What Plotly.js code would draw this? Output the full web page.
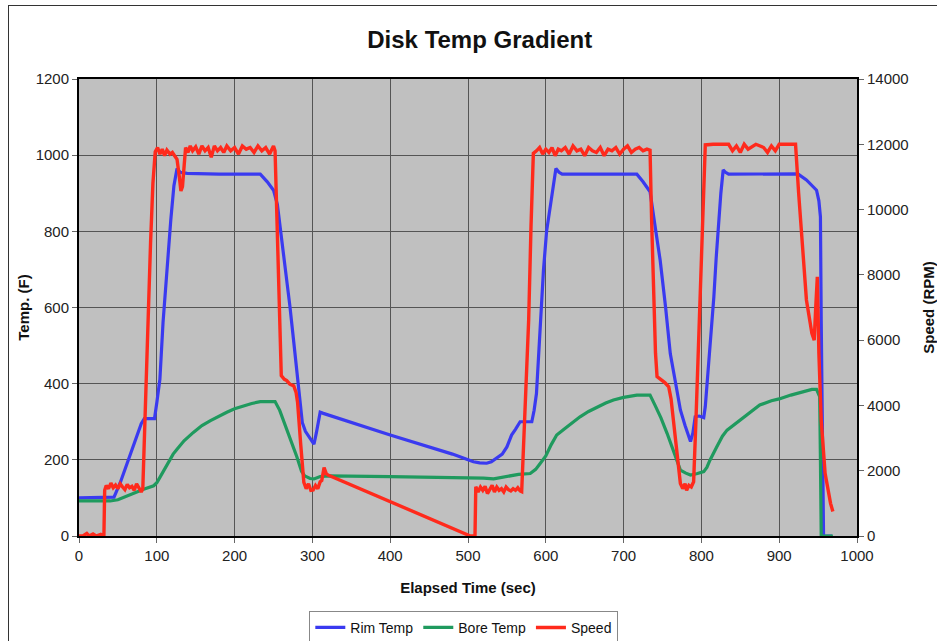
<!DOCTYPE html>
<html>
<head>
<meta charset="utf-8">
<script src="https://cdn.plot.ly/plotly-3.0.1.min.js"></script>
<style>
  html, body { margin:0; padding:0; background:#fff; overflow:hidden; }
  #chart { position:absolute; left:0; top:0; width:937px; height:641px; }
  #frame { position:absolute; left:8px; top:5px; width:1100px; height:900px; border:1px solid #333; pointer-events:none; }
</style>
</head>
<body>
<div id="chart"></div>
<div id="frame"></div>
<script>
// ---- Data ----
const seriesNames = ["Rim Temp", "Bore Temp", "Speed"];

// Rim Temp (F) vs elapsed time (sec)
const rimTime = [0,20,40,45,53,60,70,80,84,97,100,104,108,113,118,122,126,130,139,180,233,242,250,255,259,265,271,276,280,284,287,291,295,299,302,305,308,310,314,400,480,507,515,524,530,537,544,550,553,556,561,567,582,585,588,592,597,601,606,610,613,617,621,700,717,725,734,740,747,754,760,767,773,779,783,786,789,792,797,803,805,807,812,816,819,822,825,828,831,835,900,924,935,944,948,951,953,954,955,956,957,968];
const rimTemp = [100,100,100,102,140,180,235,295,308,308,350,412,560,710,830,920,965,955,952,950,950,930,908,870,807,700,605,510,430,350,298,275,263,248,241,270,310,325,322,265,215,195,192,191,195,204,215,234,248,265,280,300,300,330,374,520,698,800,873,930,965,955,950,950,950,930,904,820,724,600,479,400,331,290,265,248,270,313,315,311,340,392,510,628,730,829,900,961,955,950,951,951,935,918,908,880,838,567,300,100,0,0];

// Bore Temp (F) vs elapsed time (sec)
const boreTime = [0,20,40,50,61,72,83,96,100,104,110,116,121,126,135,147,158,169,180,190,200,211,222,233,252,258,265,272,280,286,290,297,302,310,320,400,507,520,533,542,550,565,580,587,593,600,607,614,625,635,644,655,666,677,687,700,717,734,740,748,756,765,773,780,786,795,803,807,811,820,827,833,845,855,865,875,890,900,915,930,942,948,952,953,954,969];
const boreTemp = [92,92,92,95,105,115,123,132,140,154,175,200,215,228,250,272,290,303,315,325,334,342,348,353,353,330,292,254,208,170,158,151,150,156,158,156,154,152,150,153,156,162,164,175,191,210,240,265,283,300,313,327,339,349,357,364,370,370,345,310,269,220,173,165,160,164,169,180,199,235,262,278,297,313,328,344,355,360,370,379,385,385,366,200,0,0];

// Speed (RPM) vs elapsed time (sec)
const speedTime = [0,5,10,13,18,22,28,32,33,35,38,41,44,47,50,53,56,59,62,65,68,71,74,77,80,82,84,87,89,92,95,98,101,104,107,110,113,117,120,123,126,129,131,133,135,137,140,143,146,150,154,158,162,166,170,174,178,182,186,190,195,200,205,210,215,220,225,230,235,240,245,250,252,254,257,260,264,267,271,276,279,281,285,289,292,295,298,301,304,307,310,312,315,318,320,503,509,510,513,516,519,522,525,528,531,534,537,540,543,546,549,552,555,558,561,564,567,569,572,575,578,581,584,588,592,596,600,604,608,612,616,620,625,630,635,640,645,650,655,660,665,670,675,680,685,690,695,700,705,710,715,720,725,730,734,736,741,743,749,753,758,761,764,769,773,776,779,781,784,787,790,793,797,800,803,805,815,825,835,840,845,850,855,860,870,880,885,890,895,900,910,921,925,929,935,942,945,947,949,951,954,959,963,966,969];
const speedRpm = [0,0,80,0,60,0,50,0,1400,1550,1450,1620,1480,1560,1450,1600,1500,1420,1580,1480,1520,1400,1600,1450,1350,1450,3000,5500,6630,9000,10800,11770,11900,11700,11850,11650,11820,11700,11750,11650,11540,11000,10570,10700,11300,11900,11750,11950,11800,11920,11700,11950,11800,11900,11600,11950,11800,11900,11750,11950,11800,11900,11700,11950,11850,11900,11750,11950,11800,11900,11700,11950,11800,10000,7680,4910,4800,4760,4650,4600,4400,4080,2800,1640,1450,1600,1400,1410,1550,1450,1660,1700,2100,1900,1870,0,0,1510,1350,1500,1400,1520,1300,1450,1550,1350,1500,1400,1450,1350,1500,1420,1380,1450,1400,1480,1380,1360,3000,5000,6620,9500,11720,11800,11900,11700,11850,11750,11900,11650,11850,11800,11900,11700,11950,11800,11850,11650,11900,11800,11750,11900,11650,11850,11800,11900,11700,11850,11950,11750,11850,11900,11800,11850,11820,9680,5600,4880,4780,4700,4570,4200,3550,2500,1610,1450,1600,1400,1550,1500,1660,3550,6500,8660,11000,11980,12000,12000,12000,11800,11950,11750,12000,11850,12000,11900,11750,11950,11800,12000,12000,12000,10500,9170,7230,6210,6000,7020,7940,5590,3550,1920,1310,1000,750];

// Axis tick labels
const xTicks = [0,100,200,300,400,500,600,700,800,900,1000];
const yTicks = [0,200,400,600,800,1000,1200];
const y2Ticks = [0,2000,4000,6000,8000,10000,12000,14000];

const FONT = "Liberation Sans, Arial, Helvetica, sans-serif";
const TICKFONT = { family: FONT, size: 15, color: "#222" };
const AXTITLEFONT = { family: FONT, size: 15, color: "#111" };

const traces = [
  { x: rimTime, y: rimTemp, name: seriesNames[0], type: "scatter", mode: "lines",
    line: { color: "#3a3af0", width: 3.2 }, yaxis: "y" },
  { x: boreTime, y: boreTemp, name: seriesNames[1], type: "scatter", mode: "lines",
    line: { color: "#1f9a5e", width: 3.2 }, yaxis: "y" },
  { x: speedTime, y: speedRpm, name: seriesNames[2], type: "scatter", mode: "lines",
    line: { color: "#ff2a1c", width: 3.4 }, yaxis: "y2" }
];

const layout = {
  width: 937, height: 641,
  paper_bgcolor: "#ffffff",
  plot_bgcolor: "#c0c0c0",
  margin: { l: 79, r: 80, t: 79, b: 105, pad: 0, autoexpand: false },
  font: { family: FONT, size: 13, color: "#222" },
  title: { text: "<b>Disk Temp Gradient</b>", font: { family: FONT, size: 24, color: "#111" },
           x: 0.512, xref: "container", xanchor: "center", y: 0.9376, yref: "container", yanchor: "middle" },
  xaxis: {
    range: [0, 1000], tickvals: xTicks, ticktext: xTicks.map(String), automargin: false,
    showgrid: true, gridcolor: "#555555", gridwidth: 1,
    showline: true, linecolor: "#000", linewidth: 2, mirror: true,
    ticks: "outside", ticklen: 5, tickcolor: "#666", zeroline: false,
    tickfont: TICKFONT,
    title: { text: "<b>Elapsed Time (sec)</b>", font: AXTITLEFONT, standoff: 19 }
  },
  yaxis: {
    range: [0, 1200], tickvals: yTicks, ticktext: yTicks.map(String), automargin: false,
    showgrid: true, gridcolor: "#555555", gridwidth: 1,
    showline: true, linecolor: "#000", linewidth: 2, mirror: true,
    ticks: "outside", ticklen: 5, tickcolor: "#666", zeroline: false,
    tickfont: TICKFONT,
    title: { text: "<b>Temp. (F)</b>", font: AXTITLEFONT, standoff: 2 }
  },
  yaxis2: {
    range: [0, 14000], tickvals: y2Ticks, ticktext: y2Ticks.map(String), automargin: false,
    overlaying: "y", side: "right", showgrid: false, zeroline: false,
    showline: true, linecolor: "#000", linewidth: 2,
    ticks: "outside", ticklen: 5, tickcolor: "#666",
    tickfont: TICKFONT,
    title: { text: "<b>Speed (RPM)</b>", font: AXTITLEFONT, standoff: 18 }
  },
  showlegend: true,
  legend: {
    orientation: "h", x: 0.495, xanchor: "center", xref: "container",
    y: 0.047, yanchor: "top", yref: "container",
    bgcolor: "#ffffff", bordercolor: "#888", borderwidth: 1,
    font: { family: FONT, size: 14, color: "#111" },
    tracegroupgap: 0
  },
  hovermode: false
};

Plotly.newPlot("chart", traces, layout, { displayModeBar: false, staticPlot: true });
</script>
</body>
</html>
